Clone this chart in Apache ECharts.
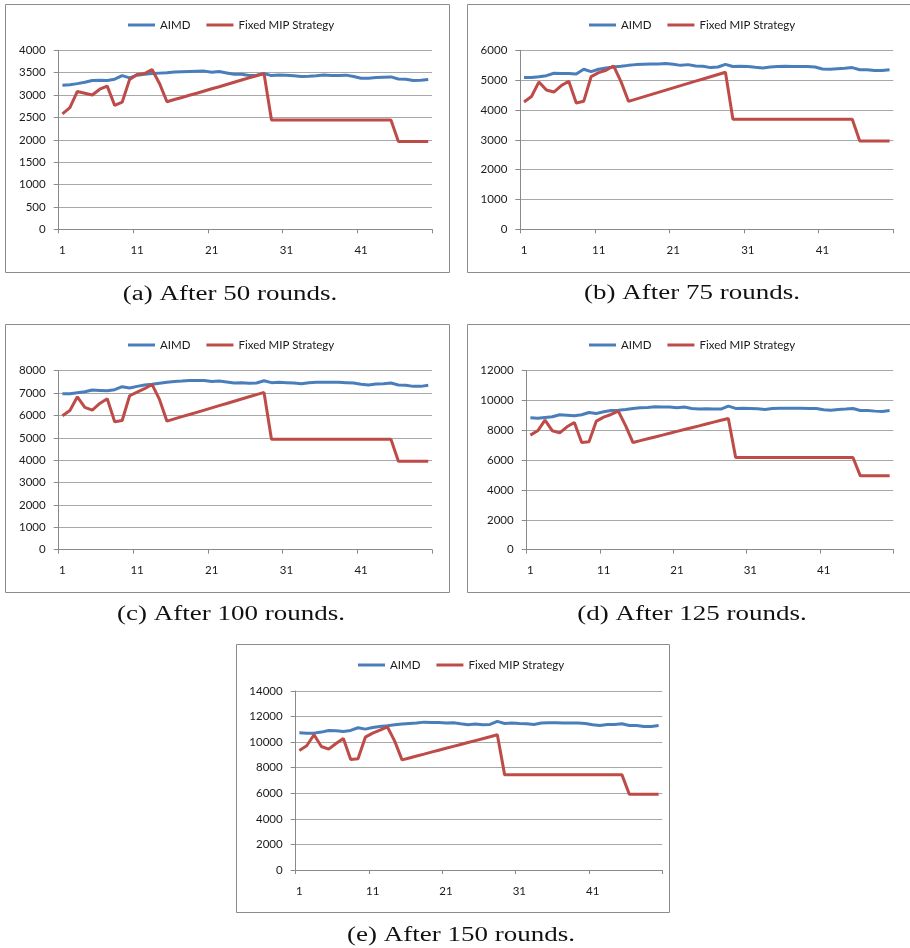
<!DOCTYPE html>
<html>
<head>
<meta charset="utf-8">
<script src="https://cdn.jsdelivr.net/npm/echarts@6/dist/echarts.min.js"></script>
<style>
  html, body { margin: 0; padding: 0; background: #ffffff; }
  #chart { width: 910px; height: 948px; }
</style>
</head>
<body>
<div id="chart"></div>
<script>
// Round numbers along the x axis (1..50)
const rounds = [];
for (let r = 1; r <= 50; r++) rounds.push(String(r));

const seriesNames = ['AIMD', 'Fixed MIP Strategy'];

// (a) After 50 rounds
const aimd50 = [3220,3230,3255,3285,3325,3330,3325,3355,3435,3385,3445,3465,3480,3490,3500,3515,3520,3525,3530,3535,3510,3525,3495,3465,3465,3435,3445,3480,3435,3450,3445,3430,3415,3420,3430,3450,3435,3435,3445,3415,3375,3375,3390,3400,3405,3360,3355,3325,3330,3345];
const mip50 = [2580,2720,3080,3040,3000,3130,3200,2770,2840,3350,3460,3480,3570,3260,2850,2900,2945,2995,3040,3090,3140,3185,3235,3285,3335,3385,3430,3480,2440,2440,2440,2440,2440,2440,2440,2440,2440,2440,2440,2440,2440,2440,2440,2440,2440,1960,1960,1960,1960,1960];

// (b) After 75 rounds
const aimd75 = [5085,5085,5115,5150,5230,5220,5220,5205,5365,5285,5365,5410,5440,5465,5495,5520,5530,5540,5540,5555,5530,5495,5520,5475,5465,5420,5440,5530,5455,5465,5455,5430,5410,5440,5455,5465,5455,5455,5455,5440,5375,5365,5385,5395,5420,5350,5350,5320,5320,5350];
const mip75 = [4270,4450,4940,4670,4600,4820,4960,4235,4290,5120,5250,5330,5475,4950,4290,4365,4440,4515,4590,4665,4740,4815,4890,4965,5040,5115,5190,5265,3690,3690,3690,3690,3690,3690,3690,3690,3690,3690,3690,3690,3690,3690,3690,3690,3690,2960,2960,2960,2960,2960];

// (c) After 100 rounds
const aimd100 = [6970,6970,7015,7060,7135,7120,7105,7150,7285,7225,7300,7360,7390,7435,7480,7520,7535,7565,7565,7565,7520,7535,7495,7450,7465,7435,7450,7550,7465,7480,7465,7450,7420,7465,7480,7480,7480,7480,7465,7450,7390,7360,7405,7420,7450,7360,7345,7300,7300,7345];
const mip100 = [5985,6225,6835,6360,6240,6535,6745,5715,5775,6880,7045,7195,7390,6715,5745,5845,5945,6040,6140,6240,6340,6440,6535,6635,6735,6835,6930,7030,4940,4940,4940,4940,4940,4940,4940,4940,4940,4940,4940,4940,4940,4940,4940,4940,4940,3955,3955,3955,3955,3955];

// (d) After 125 rounds
const aimd125 = [8845,8820,8865,8910,9045,9020,8975,9045,9200,9135,9245,9335,9355,9400,9470,9515,9535,9580,9560,9560,9515,9560,9470,9425,9445,9425,9425,9625,9470,9490,9470,9445,9400,9470,9490,9490,9490,9490,9470,9470,9380,9355,9400,9425,9470,9335,9335,9290,9270,9335];
const mip125 = [7680,7970,8685,7970,7835,8240,8530,7185,7230,8620,8890,9065,9290,8305,7185,7310,7435,7560,7680,7805,7930,8055,8180,8300,8425,8550,8675,8800,6180,6180,6180,6180,6180,6180,6180,6180,6180,6180,6180,6180,6180,6180,6180,6180,6180,4950,4950,4950,4950,4950];

// (e) After 150 rounds
const aimd150 = [10730,10705,10705,10785,10915,10890,10835,10915,11125,11020,11150,11225,11280,11360,11410,11460,11490,11565,11540,11540,11490,11515,11435,11360,11410,11360,11385,11620,11460,11490,11460,11435,11385,11490,11515,11515,11490,11490,11490,11460,11360,11305,11385,11385,11435,11305,11305,11225,11225,11305];
const mip150 = [9350,9715,10575,9660,9450,9895,10285,8640,8695,10390,10705,10940,11200,10080,8615,8765,8915,9065,9220,9370,9520,9670,9820,9970,10120,10270,10420,10575,7440,7440,7440,7440,7440,7440,7440,7440,7440,7440,7440,7440,7440,7440,7440,7440,7440,5930,5930,5930,5930,5930];

// Y axis ranges per panel
const yMax = [4000, 6000, 8000, 12000, 14000];
const yStep = [500, 1000, 1000, 2000, 2000];

const captions = [
  '(a) After 50 rounds.',
  '(b) After 75 rounds.',
  '(c) After 100 rounds.',
  '(d) After 125 rounds.',
  '(e) After 150 rounds.'
];

const aimdSets = [aimd50, aimd75, aimd100, aimd125, aimd150];
const mipSets = [mip50, mip75, mip100, mip125, mip150];

// Page layout of the five panels
const layout = [
  { box: [5, 4, 444, 268],   grid: [58.7, 50.3, 373.3, 179], legend: [128, 19],   cap: [230, 295] },
  { box: [467, 4, 450, 268], grid: [520.3, 50.3, 373, 179],  legend: [589, 19],   cap: [692, 294] },
  { box: [5, 324, 444, 268], grid: [58.7, 370.7, 373.3, 179], legend: [128, 339], cap: [231, 615] },
  { box: [467, 324, 450, 268], grid: [526.7, 370.7, 366.6, 179], legend: [589, 339], cap: [692, 615] },
  { box: [236, 644, 433, 268], grid: [295.7, 691, 366.6, 179], legend: [358, 659], cap: [461, 936] }
];

const BLUE = '#4A7EBB';
const RED = '#BE4B48';
const AXIS_GRAY = '#8a8a8a';
const GRID_GRAY = '#a8a8a8';
const uiFont = 'Lato';

const option = {
  animation: false,
  backgroundColor: '#ffffff',
  grid: [], xAxis: [], yAxis: [], legend: [], series: [], graphic: []
};

layout.forEach((p, k) => {
  option.grid.push({
    left: p.grid[0], top: p.grid[1], width: p.grid[2], height: p.grid[3],
    containLabel: false
  });
  option.xAxis.push({
    type: 'category', gridIndex: k, data: rounds, boundaryGap: true,
    axisLine: { show: true, lineStyle: { color: AXIS_GRAY, width: 1 } },
    axisTick: { show: true, interval: 9, length: 4, lineStyle: { color: AXIS_GRAY } },
    axisLabel: { interval: 9, margin: 15, color: '#1a1a1a', fontFamily: uiFont, fontSize: 11.5 },
    splitLine: { show: false }
  });
  option.yAxis.push({
    type: 'value', gridIndex: k, min: 0, max: yMax[k], interval: yStep[k],
    axisLine: { show: true, lineStyle: { color: AXIS_GRAY, width: 1 } },
    axisTick: { show: true, length: 5, lineStyle: { color: AXIS_GRAY } },
    axisLabel: {
      margin: 13, color: '#1a1a1a', fontFamily: uiFont, fontSize: 11.5,
      formatter: (v) => String(v)
    },
    splitLine: { show: true, lineStyle: { color: GRID_GRAY, width: 1 } }
  });
  option.legend.push({
    data: seriesNames, left: p.legend[0], top: p.legend[1], padding: 0,
    icon: 'rect', itemWidth: 27, itemHeight: 3, itemGap: 16,
    selectedMode: false,
    textStyle: { fontFamily: uiFont, fontSize: 11.5, color: '#1a1a1a' }
  });
  option.series.push({
    name: seriesNames[0], type: 'line', xAxisIndex: k, yAxisIndex: k,
    data: aimdSets[k], showSymbol: false, symbol: 'none',
    lineStyle: { color: BLUE, width: 3 }, itemStyle: { color: BLUE }
  });
  option.series.push({
    name: seriesNames[1], type: 'line', xAxisIndex: k, yAxisIndex: k,
    data: mipSets[k], showSymbol: false, symbol: 'none',
    lineStyle: { color: RED, width: 3 }, itemStyle: { color: RED }
  });
  // panel frame
  option.graphic.push({
    type: 'rect', silent: true, z: 0,
    shape: { x: p.box[0] + 0.5, y: p.box[1] + 0.5, width: p.box[2], height: p.box[3] },
    style: { fill: 'none', stroke: '#8c8c8c', lineWidth: 1 }
  });
  // sub-caption under the panel
  option.graphic.push({
    type: 'text', silent: true, x: p.cap[0], y: p.cap[1], scaleX: 1.35, scaleY: 1,
    style: {
      text: captions[k], x: 0, y: 0, align: 'center', verticalAlign: 'middle',
      fontFamily: 'Liberation Serif', fontSize: 20, fill: '#111111'
    }
  });
});

const chart = echarts.init(document.getElementById('chart'), null, { renderer: 'canvas' });
chart.setOption(option);
</script>
</body>
</html>
